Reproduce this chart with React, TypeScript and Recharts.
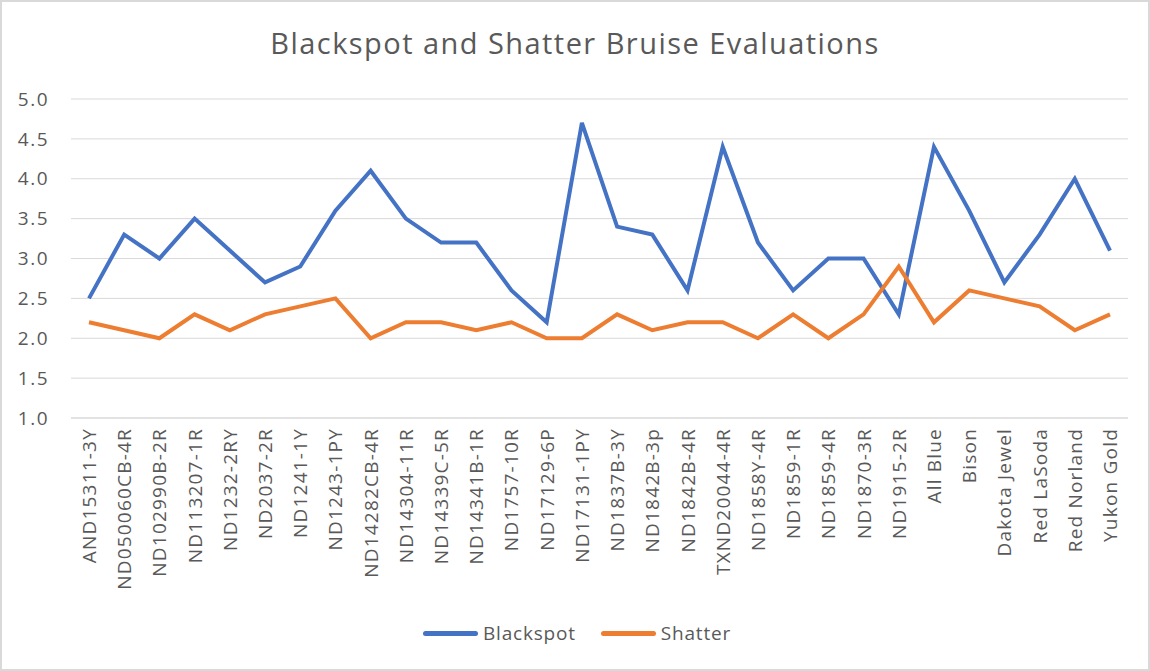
import React from "react";
import { LineChart, Line, XAxis, YAxis, CartesianGrid } from "recharts";

const CATEGORIES = [
  "AND15311-3Y", "ND050060CB-4R", "ND102990B-2R", "ND113207-1R", "ND1232-2RY",
  "ND2037-2R", "ND1241-1Y", "ND1243-1PY", "ND14282CB-4R", "ND14304-11R",
  "ND14339C-5R", "ND14341B-1R", "ND1757-10R", "ND17129-6P", "ND17131-1PY",
  "ND1837B-3Y", "ND1842B-3p", "ND1842B-4R", "TXND20044-4R", "ND1858Y-4R",
  "ND1859-1R", "ND1859-4R", "ND1870-3R", "ND1915-2R", "All Blue",
  "Bison", "Dakota Jewel", "Red LaSoda", "Red Norland", "Yukon Gold",
];

const BLACKSPOT = [
  2.5, 3.3, 3.0, 3.5, 3.1, 2.7, 2.9, 3.6, 4.1, 3.5,
  3.2, 3.2, 2.6, 2.2, 4.7, 3.4, 3.3, 2.6, 4.4, 3.2,
  2.6, 3.0, 3.0, 2.3, 4.4, 3.6, 2.7, 3.3, 4.0, 3.1,
];

const SHATTER = [
  2.2, 2.1, 2.0, 2.3, 2.1, 2.3, 2.4, 2.5, 2.0, 2.2,
  2.2, 2.1, 2.2, 2.0, 2.0, 2.3, 2.1, 2.2, 2.2, 2.0,
  2.3, 2.0, 2.3, 2.9, 2.2, 2.6, 2.5, 2.4, 2.1, 2.3,
];

const Y_TICKS = [1, 1.5, 2, 2.5, 3, 3.5, 4, 4.5, 5];

const data = CATEGORIES.map((name, i) => ({
  name,
  blackspot: BLACKSPOT[i],
  shatter: SHATTER[i],
}));

const FONT = "'Open Sans', sans-serif";
const TEXT = "#595959";

function RotatedTick(props: any) {
  const { x, y, payload } = props;
  return (
    <text
      x={0}
      y={0}
      transform={`translate(${x},${y + 2}) rotate(-90)`}
      textAnchor="end"
      dominantBaseline="central"
      fill={TEXT}
      fontSize={19}
      fontFamily={FONT}
      letterSpacing={1.2}
    >
      {payload.value}
    </text>
  );
}

const legendItems = [
  { label: "Blackspot", color: "#4472C4" },
  { label: "Shatter", color: "#ED7D31" },
];

export default function App() {
  return (
    <div
      style={{
        position: "absolute",
        left: 0,
        top: 0,
        width: 1150,
        height: 671,
        boxSizing: "border-box",
        border: "2px solid #D9D9D9",
        background: "#fff",
        fontFamily: FONT,
      }}
    >
      <div
        style={{
          position: "absolute",
          top: 21,
          left: 0,
          width: 1146,
          textAlign: "center",
          fontSize: 29,
          letterSpacing: 1.45,
          color: TEXT,
        }}
      >
        Blackspot and Shatter Bruise Evaluations
      </div>
      <div style={{ position: "absolute", left: -2, top: -2 }}>
        <LineChart
          width={1150}
          height={671}
          data={data}
          margin={{ top: 99, right: 22, bottom: 73, left: 0 }}
        >
          <CartesianGrid vertical={false} stroke="#D9D9D9" strokeWidth={1} />
          <XAxis
            dataKey="name"
            interval={0}
            height={180}
            padding={{ left: 18, right: 18 }}
            tick={<RotatedTick />}
            tickLine={false}
            axisLine={{ stroke: "#D9D9D9" }}
          />
          <YAxis
            domain={[1, 5]}
            ticks={Y_TICKS}
            width={71}
            tickFormatter={(v: number) => v.toFixed(1)}
            tick={{ fill: TEXT, fontSize: 19, fontFamily: FONT, letterSpacing: 1.5 }}
            tickLine={false}
            axisLine={false}
            tickSize={0}
            tickMargin={22}
          />
          <Line
            type="linear"
            dataKey="blackspot"
            stroke="#4472C4"
            strokeWidth={4}
            dot={false}
            isAnimationActive={false}
          />
          <Line
            type="linear"
            dataKey="shatter"
            stroke="#ED7D31"
            strokeWidth={4}
            dot={false}
            isAnimationActive={false}
          />
        </LineChart>
      </div>
      <div
        style={{
          position: "absolute",
          top: 618,
          left: 0,
          width: 1150,
          display: "flex",
          justifyContent: "center",
          gap: 25,
          fontSize: 19,
          letterSpacing: 0.8,
          color: TEXT,
        }}
      >
        {legendItems.map((item) => (
          <div key={item.label} style={{ display: "flex", alignItems: "center" }}>
            <span
              style={{
                display: "inline-block",
                width: 55,
                height: 5,
                borderRadius: 3,
                background: item.color,
                marginRight: 5,
              }}
            />
            <span>{item.label}</span>
          </div>
        ))}
      </div>
    </div>
  );
}
